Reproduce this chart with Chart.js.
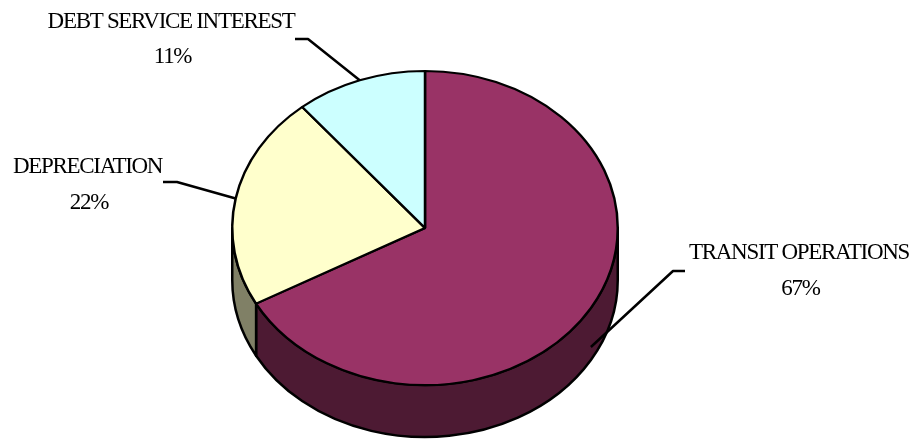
<!DOCTYPE html>
<html>
<head>
<meta charset="utf-8">
<title>Expense breakdown</title>
<script src="https://cdn.jsdelivr.net/npm/chart.js@4.4.1/dist/chart.umd.min.js"></script>
<style>
  html, body { margin: 0; padding: 0; background: #fff; }
  #pie { display: block; }
</style>
</head>
<body>
<canvas id="pie" width="915" height="440"></canvas>
<script>
// slices, clockwise from 12 o'clock
const categories = ["TRANSIT OPERATIONS", "DEPRECIATION", "DEBT SERVICE INTEREST"];
const shares = [67, 22, 11];
const topColors = ["#993366", "#FFFFCC", "#CCFFFF"];
const sideColors = ["#4D1A33", "#808066", "#668080"];

// label centre x, name baseline, leader elbow (text end, bend)
const labelSpots = [
  { x: 799, y: 259, elbow: [[685, 271], [673, 271]] },
  { x: 87.5, y: 173, elbow: [[163, 182], [177, 182]] },
  { x: 171, y: 27.5, elbow: [[295, 39], [308, 39]] },
];

const TILT = 0.815;   // vertical squash of the pie top
const DEPTH = 52;     // height of the side wall
const LABEL_FONT = "23px 'Liberation Serif', serif";
const LINE_W = 2.5;

function wallGeom(arc) {
  return { cx: arc.x, cy: arc.y, rx: arc.outerRadius, ry: arc.outerRadius * TILT };
}

const pie3d = {
  id: "pie3d",
  beforeDatasetsDraw(chart) {
    const ctx = chart.ctx;
    const arcs = chart.getDatasetMeta(0).data;
    if (!arcs.length) return;
    const g = wallGeom(arcs[0]);

    // side walls for the front half (0..PI)
    arcs.forEach((arc, i) => {
      const a0 = Math.max(arc.startAngle, 0);
      const a1 = Math.min(arc.endAngle, Math.PI);
      if (a1 <= a0) return;
      ctx.save();
      ctx.beginPath();
      ctx.ellipse(g.cx, g.cy, g.rx, g.ry, 0, a0, a1, false);
      ctx.ellipse(g.cx, g.cy + DEPTH, g.rx, g.ry, 0, a1, a0, true);
      ctx.closePath();
      ctx.fillStyle = sideColors[i];
      ctx.fill();
      ctx.lineWidth = LINE_W;
      ctx.strokeStyle = "#000";
      ctx.lineJoin = "round";
      ctx.stroke();
      ctx.restore();
    });

    // squash the top face into an ellipse
    ctx.save();
    ctx.translate(g.cx, g.cy);
    ctx.scale(1, TILT);
    ctx.translate(-g.cx, -g.cy);
  },
  afterDatasetsDraw(chart) {
    chart.ctx.restore();
  },
  afterDraw(chart) {
    const ctx = chart.ctx;
    const arcs = chart.getDatasetMeta(0).data;
    const total = shares.reduce((a, b) => a + b, 0);
    ctx.save();
    arcs.forEach((arc, i) => {
      const g = wallGeom(arc);
      const mid = (arc.startAngle + arc.endAngle) / 2;
      let ax = g.cx + g.rx * Math.cos(mid);
      let ay = g.cy + g.ry * Math.sin(mid);
      if (Math.sin(mid) > 0.2) ay += DEPTH * 0.75;
      const spot = labelSpots[i];

      ctx.beginPath();
      ctx.moveTo(spot.elbow[0][0], spot.elbow[0][1]);
      ctx.lineTo(spot.elbow[1][0], spot.elbow[1][1]);
      ctx.lineTo(ax, ay);
      ctx.lineWidth = LINE_W;
      ctx.strokeStyle = "#000";
      ctx.lineJoin = "round";
      ctx.stroke();

      ctx.fillStyle = "#000";
      ctx.font = LABEL_FONT;
      ctx.letterSpacing = "-1.3px";
      ctx.textAlign = "center";
      ctx.textBaseline = "alphabetic";
      ctx.fillText(categories[i], spot.x, spot.y);
      ctx.fillText(Math.round(shares[i] / total * 100) + "%", spot.x + 1.5, spot.y + 35.5);
    });
    ctx.restore();
  },
};

new Chart(document.getElementById("pie"), {
  type: "pie",
  data: {
    labels: categories,
    datasets: [{
      data: shares,
      backgroundColor: topColors,
      borderColor: "#000",
      borderWidth: LINE_W,
    }],
  },
  options: {
    responsive: false,
    animation: false,
    layout: { padding: { left: 231, right: 296, top: 34, bottom: 18 } },
    plugins: {
      legend: { display: false },
      tooltip: { enabled: false },
    },
  },
  plugins: [pie3d],
});
</script>
</body>
</html>
